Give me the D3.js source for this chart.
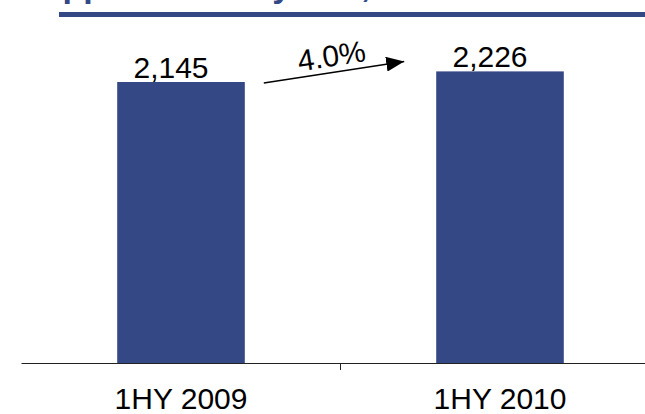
<!DOCTYPE html>
<html>
<head>
<meta charset="utf-8">
<script src="https://cdn.jsdelivr.net/npm/d3@7"></script>
<style>
  html, body { margin: 0; padding: 0; background: #fff; }
  svg { display: block; }
  text { font-family: "Liberation Sans", Arial, sans-serif; }
</style>
</head>
<body>
<svg id="chart" width="645" height="414"></svg>
<script>
const titleText = "Applications by half, 1HY 2009 vs 1HY 2010";
const categories = ["1HY 2009", "1HY 2010"];
const values = [2145, 2226];
const valueLabels = ["2,145", "2,226"];
const growthLabel = "4.0%";

const W = 645, H = 414;
const barColor = "#354886";
const svg = d3.select("#chart");

// Title (cut off at the top, as in the reference) and header rule
svg.append("text")
  .attr("x", 38).attr("y", -3)
  .attr("font-size", 34).attr("font-weight", "bold")
  .attr("fill", barColor)
  .text(titleText);
svg.append("rect")
  .attr("x", 59).attr("y", 12).attr("width", W - 59).attr("height", 5)
  .attr("fill", barColor);

const x = d3.scaleBand().domain(categories)
  .range([21.5, 659.5]).paddingInner(0.6).paddingOuter(0.3);
const y = d3.scaleLinear().domain([0, 2500]).range([363, 35.5]);

// Bars
svg.selectAll("rect.bar").data(values).enter().append("rect")
  .attr("class", "bar")
  .attr("x", (d, i) => x(categories[i]))
  .attr("y", d => y(d))
  .attr("width", x.bandwidth())
  .attr("height", d => y(0) - y(d))
  .attr("fill", barColor);

// Axis
const axis = svg.append("g").attr("transform", `translate(0,${y(0)})`);
axis.append("line")
  .attr("x1", 21.5).attr("x2", W).attr("y1", 0.5).attr("y2", 0.5)
  .attr("stroke", "#222").attr("stroke-width", 1.2);
const mid = (x(categories[0]) + x(categories[1]) + x.bandwidth()) / 2;
axis.append("line")
  .attr("x1", mid).attr("x2", mid).attr("y1", 0).attr("y2", 7)
  .attr("stroke", "#222").attr("stroke-width", 1);
axis.selectAll("text.cat").data(categories).enter().append("text")
  .attr("class", "cat")
  .attr("x", d => x(d) + x.bandwidth() / 2)
  .attr("y", 46)
  .attr("text-anchor", "middle")
  .attr("font-size", 30)
  .attr("fill", "#000")
  .text(d => d);

// Value labels
svg.selectAll("text.val").data(values).enter().append("text")
  .attr("class", "val")
  .attr("x", (d, i) => x(categories[i]) + x.bandwidth() / 2 - 10)
  .attr("y", d => y(d) - 4)
  .attr("text-anchor", "middle")
  .attr("font-size", 30)
  .attr("fill", "#000")
  .text((d, i) => valueLabels[i]);

// Growth arrow
const defs = svg.append("defs");
defs.append("marker")
  .attr("id", "ah").attr("viewBox", "0 0 10 10")
  .attr("refX", 10).attr("refY", 5)
  .attr("markerWidth", 18).attr("markerHeight", 15)
  .attr("markerUnits", "userSpaceOnUse")
  .attr("preserveAspectRatio", "none")
  .attr("orient", "auto")
  .append("path").attr("d", "M0,0 L10,5 L0,10 Z").attr("fill", "#000");

const x1 = x(categories[0]) + x.bandwidth() + 19;
const y1 = y(values[0]) + 1;
const x2 = x(categories[1]) - 32;
const y2 = y(values[1]) - 10;
svg.append("line")
  .attr("x1", x1).attr("y1", y1).attr("x2", x2).attr("y2", y2)
  .attr("stroke", "#000").attr("stroke-width", 1.5)
  .attr("marker-end", "url(#ah)");

const angle = Math.atan2(y2 - y1, x2 - x1) * 180 / Math.PI;
svg.append("text")
  .attr("transform", `translate(${(x1 + x2) / 2 - 1},${(y1 + y2) / 2 - 6}) rotate(${angle})`)
  .attr("text-anchor", "middle")
  .attr("font-size", 30)
  .attr("fill", "#000")
  .text(growthLabel);
</script>
</body>
</html>
